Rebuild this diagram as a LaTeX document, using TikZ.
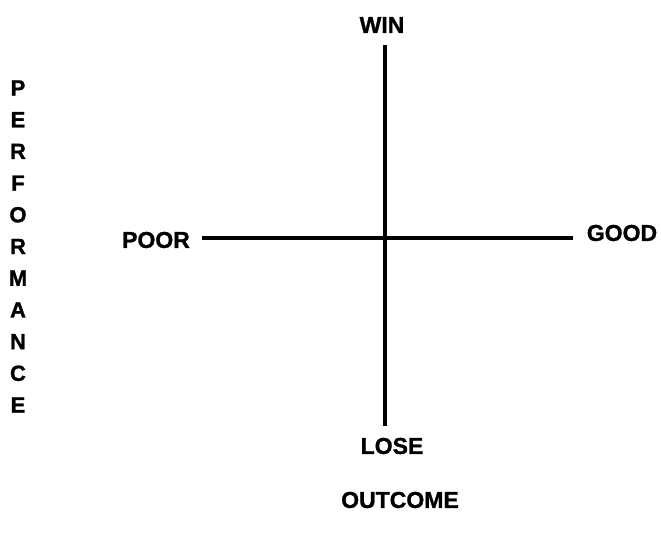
\documentclass[tikz,border=0pt]{standalone}
\usepackage{fontspec}
\setmainfont{Liberation Sans}[BoldFeatures={FakeBold=1.2}]
\usetikzlibrary{positioning}

\begin{document}
\begin{tikzpicture}[x=1pt,y=-1pt,
    every node/.style={font=\fontsize{23}{26}\selectfont\bfseries, inner sep=0pt},
    axisline/.style={line width=4pt}]
  \useasboundingbox (0,0) rectangle (661,535);
  \coordinate (ctr) at (385,238);
  \node (win) at (382,25) {WIN};
  \node (lose) at (392,446) {LOSE};
  \node (poor) at (156,240) {POOR};
  \node (good) at (622,233) {GOOD};
  \node (outcome) at (400,500) {OUTCOME};
  % vertical label
  \foreach \ch [count=\i from 0] in {P,E,R,F,O,R,M,A,N,C,E}
    \node[font=\fontsize{22}{24}\selectfont\bfseries] (perf\i) at (18,88+31.7*\i) {\ch};
  \draw[axisline] ([yshift=-12pt]win.south -| ctr) -- ([yshift=12pt]lose.north -| ctr);
  \draw[axisline] ([xshift=12pt]poor.east |- ctr) -- ([xshift=-14pt]good.west |- ctr);
\end{tikzpicture}
\end{document}
